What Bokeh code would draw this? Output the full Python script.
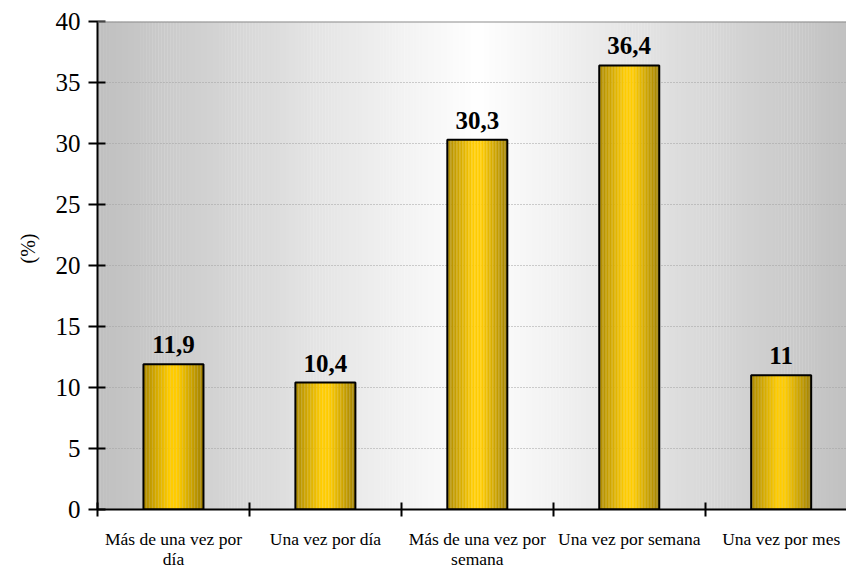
import numpy as np
from bokeh.plotting import figure
from bokeh.models import (Range1d, FixedTicker, Title, LabelSet, Span, ColumnDataSource)
from bokeh.core.properties import value
from bokeh.embed import file_html
from bokeh.resources import INLINE

# ---- data ----
categories = ["Más de una vez por\ndía", "Una vez por día", "Más de una vez por\nsemana",
              "Una vez por semana", "Una vez por mes"]
percent = [11.9, 10.4, 30.3, 36.4, 11.0]
value_labels = ["11,9", "10,4", "30,3", "36,4", "11"]
y_ticks = [0, 5, 10, 15, 20, 25, 30, 35, 40]

FONT = "Liberation Serif"
n = len(categories)
centers = [i + 0.5 for i in range(n)]

p = figure(width=846, height=571, output_backend="svg", toolbar_location=None,
           x_range=Range1d(0, 4.93), y_range=Range1d(0, 40),
           min_border_left=97, min_border_right=0, min_border_top=21, min_border_bottom=61)
p.outline_line_color = None
p.background_fill_color = "white"
p.border_fill_color = "white"

# ---- background gradient (gray -> white -> gray) ----
edges = np.linspace(0, n, 251)
mid = (edges[:-1] + edges[1:]) / 2
t = np.abs(mid - n / 2) / (n / 2)
g = (255 - 63 * t).astype(int)
bg_colors = ["#%02x%02x%02x" % (v, v, v) for v in g]
bg = p.quad(left=edges[:-1], right=edges[1:] + 0.002, bottom=0, top=40,
            fill_color=bg_colors, line_color=None)
bg.level = "image"

# ---- grid ----
p.xgrid.visible = False
p.ygrid.ticker = FixedTicker(ticks=y_ticks[1:-1])
p.ygrid.grid_line_color = "#a0a0a0"
p.ygrid.grid_line_dash = "1 2"
p.ygrid.grid_line_width = 1

p.add_layout(Span(location=40, dimension="width", line_color="#8c8c8c", line_width=2))

# ---- bars with cylindrical gold shading ----
bar_w = 0.395
m = 40
u = (np.arange(m) + 0.5) / m
prof = np.clip((np.abs(u - 0.5) - 0.07) / 0.43, 0, 1)
dark_l = np.array([172, 138, 0])
dark_r = np.array([160, 128, 0])
bright = np.array([255, 204, 0])
strip_hex = []
for uu, s in zip(u, prof):
    dark = dark_l if uu < 0.5 else dark_r
    c = (bright * (1 - s) + dark * s).astype(int)
    strip_hex.append("#%02x%02x%02x" % tuple(c))

xs, tops, cols = [], [], []
for c, v in zip(centers, percent):
    for k in range(m):
        xs.append(c - bar_w / 2 + (k + 0.5) * bar_w / m)
        tops.append(v)
        cols.append(strip_hex[k])
p.vbar(x=xs, top=tops, bottom=0, width=bar_w / m * 1.05, fill_color=cols, line_color=None)
p.vbar(x=centers, top=percent, bottom=0, width=bar_w, fill_color=None,
       line_color="black", line_width=2)

# ---- value labels ----
src = ColumnDataSource(dict(x=centers, y=percent, t=value_labels))
p.add_layout(LabelSet(x="x", y="y", text="t", source=src, text_font=value(FONT),
                      text_font_size="25px", text_font_style="bold", text_align="center",
                      text_baseline="alphabetic", y_offset=11, text_color="black"))

# ---- axes ----
ya = p.yaxis[0]
ya.ticker = FixedTicker(ticks=y_ticks)
ya.axis_line_color = "black"
ya.axis_line_width = 2
ya.major_tick_line_color = "black"
ya.major_tick_line_width = 2
ya.major_tick_in = 8
ya.major_tick_out = 9
ya.minor_tick_line_color = None
ya.major_label_text_font = FONT
ya.major_label_text_font_size = "25px"
ya.major_label_text_color = "black"
ya.major_label_standoff = 8

xa = p.xaxis[0]
xa.ticker = FixedTicker(ticks=centers, minor_ticks=[0, 1, 2, 3, 4])
xa.major_label_overrides = {c: lab for c, lab in zip(centers, categories)}
xa.axis_line_color = "black"
xa.axis_line_width = 2
xa.major_tick_line_color = None
xa.major_tick_in = 0
xa.major_tick_out = 0
xa.minor_tick_line_color = "black"
xa.minor_tick_line_width = 2
xa.minor_tick_in = 7
xa.minor_tick_out = 7
xa.major_label_text_font = FONT
xa.major_label_text_font_size = "17.5px"
xa.major_label_text_line_height = 1.0
xa.major_label_text_color = "black"
xa.major_label_standoff = 12

p.add_layout(Title(text="(%)", align="left", offset=246, standoff=28, vertical_align="bottom",
                   text_font=FONT, text_font_size="20px", text_font_style="normal",
                   text_color="black"), "left")

open("out.html", "w").write(file_html(p, INLINE))
